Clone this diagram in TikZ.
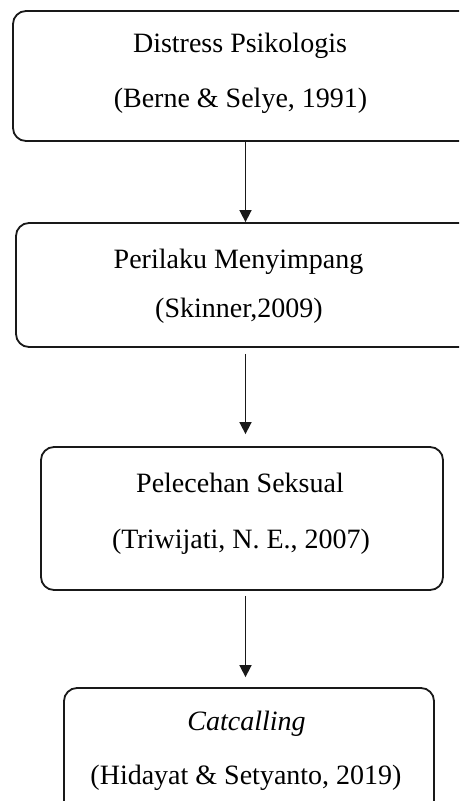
\documentclass[tikz,border=0pt]{standalone}
\usepackage{fontspec}
\setmainfont{Liberation Serif}
\usetikzlibrary{arrows.meta}
\begin{document}
\begin{tikzpicture}[x=1pt,y=-1pt,
  box/.style={draw=black!90, line width=1.8pt, rounded corners=13pt, inner sep=0pt},
  txt/.style={anchor=base, inner sep=0pt, font=\fontsize{28}{34}\selectfont},
  arr/.style={draw=black!90, line width=1.6pt, -{Triangle[width=12pt,length=12pt]}}]
\useasboundingbox (0,0) rectangle (459,801);
\clip (0,0) rectangle (459,801);
\fill[white] (0,0) rectangle (459,801);
% boxes
\node[box, minimum width=465pt, minimum height=130pt] (b1) at (245.5,76) {};
\node[box, minimum width=459pt, minimum height=124pt] (b2) at (245.5,285) {};
\node[box, minimum width=402pt, minimum height=143pt] (b3) at (242,518.5) {};
\node[box, minimum width=370pt, minimum height=127pt] (b4) at (249,751.5) {};
% texts
\node[txt] (t1a) at (240,52) {Distress Psikologis};
\node[txt] (t1b) at (240.5,107) {(Berne \& Selye, 1991)};
\node[txt] (t2a) at (238.5,268) {Perilaku Menyimpang};
\node[txt] (t2b) at (239,317) {(Skinner,2009)};
\node[txt] (t3a) at (240,492) {Pelecehan Seksual};
\node[txt] (t3b) at (241,548) {(Triwijati, N. E., 2007)};
\node[txt] (t4a) at (246.5,730) {\itshape Catcalling};
\node[txt] (t4b) at (246,784) {(Hidayat \& Setyanto, 2019)};
% arrows
\coordinate (ax) at (245.5,0);
\draw[arr] (b1.south -| ax) -- (b2.north -| ax);
\draw[arr, shorten <=6pt, shorten >=12pt] (b2.south -| ax) -- (b3.north -| ax);
\draw[arr, shorten <=5pt, shorten >=10pt] (b3.south -| ax) -- (b4.north -| ax);
\end{tikzpicture}
\end{document}
